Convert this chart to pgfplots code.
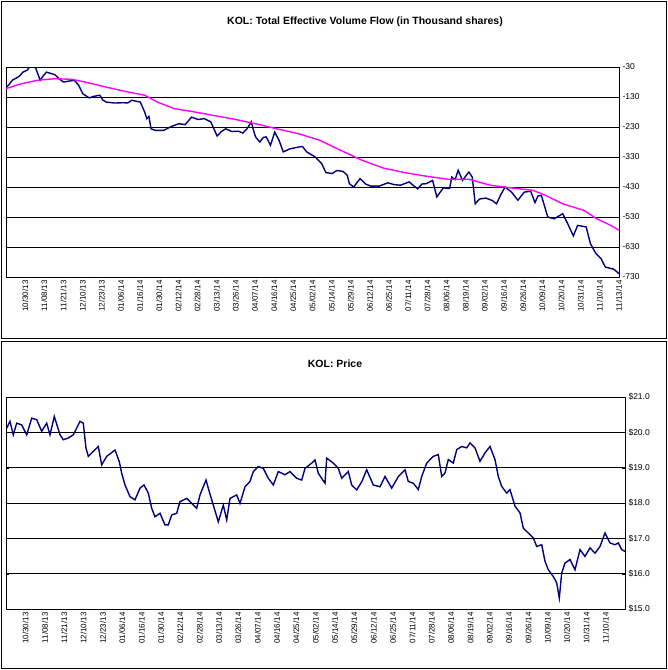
\documentclass[border=0pt]{standalone}
\usepackage{pgfplots}
\pgfplotsset{compat=1.18}
\usepackage{fontspec}
\setmainfont{Liberation Sans}
\definecolor{navy}{RGB}{0,0,128}
\definecolor{mag}{RGB}{255,0,255}
\pgfplotsset{
 common/.style={scale only axis, axis line style={black,line width=0.8pt},
  ymajorgrids, grid style={black,line width=0.8pt},
  yticklabel pos=right, tick style={black}, 
  tick label style={font=\fontsize{8.5}{9}\selectfont},
  x tick label style={rotate=90,anchor=east,font=\fontsize{8}{9}\selectfont},
  xticklabels={10/30/13,11/08/13,11/21/13,12/10/13,12/23/13,01/06/14,01/16/14,01/30/14,02/12/14,02/28/14,03/13/14,03/26/14,04/07/14,04/16/14,04/25/14,05/02/14,05/14/14,05/29/14,06/12/14,06/25/14,07/11/14,07/28/14,08/06/14,08/19/14,09/02/14,09/16/14,09/26/14,10/09/14,10/20/14,10/31/14,11/10/14,11/13/14},
  major tick length=3pt, xtick style={draw=none},
  /pgf/number format/assume math mode=true}
}
\begin{document}
\begin{tikzpicture}
\useasboundingbox (0pt,0pt) rectangle (668pt,-670pt);
\draw[line width=1pt] (1.5pt,-1.5pt) rectangle (666.5pt,-338pt);
\draw[line width=1pt] (1.5pt,-341pt) rectangle (666.5pt,-668.5pt);
\node[font=\bfseries\fontsize{10.5}{12}\selectfont] at (365pt,-22pt) {KOL: Total Effective Volume Flow (in Thousand shares)};
\node[font=\bfseries\fontsize{10.5}{12}\selectfont] at (335pt,-364pt) {KOL: Price};
\begin{axis}[common, at={(6pt,-277pt)}, anchor=south west, width=613pt, height=210pt,
  xmin=15, xmax=1452, ymin=-730, ymax=-30, ytick={-30,-130,...,-730},
  xtick={60,104.9,...,1453}]
\addplot[navy, line width=1.4pt] coordinates {
(15,-99)(20,-92)(30,-74)(45,-62)(55,-47)(65,-40)(75,-19)(85,-35)(95,-74)(102,-60)(110,-47)(130,-56)(140,-70)(150,-80)(175,-74)(185,-90)(195,-119)(210,-133)(220,-128)(235,-124)(242,-140)(250,-147)(270,-150)(290,-149)(300,-150)(310,-141)(330,-147)(340,-180)(345,-202)(350,-195)(355,-236)(365,-241)(385,-241)(400,-230)(420,-219)(435,-222)(450,-197)(465,-205)(480,-202)(495,-213)(502,-235)(510,-260)(520,-245)(530,-236)(545,-245)(560,-244)(570,-250)(580,-236)(590,-213)(595,-240)(600,-263)(610,-280)(618,-265)(625,-263)(635,-291)(645,-247)(655,-274)(665,-313)(680,-303)(700,-297)(710,-295)(720,-313)(740,-330)(755,-352)(765,-382)(780,-385)(790,-375)(805,-378)(815,-391)(820,-419)(830,-430)(845,-402)(858,-420)(870,-427)(890,-427)(910,-416)(925,-422)(940,-424)(960,-413)(970,-425)(980,-436)(990,-420)(1000,-419)(1015,-408)(1025,-463)(1040,-433)(1055,-435)(1060,-397)(1068,-405)(1075,-374)(1085,-408)(1100,-380)(1108,-397)(1115,-486)(1125,-470)(1140,-467)(1155,-475)(1165,-486)(1175,-455)(1185,-430)(1200,-447)(1215,-474)(1230,-447)(1245,-444)(1255,-482)(1262,-460)(1270,-458)(1285,-530)(1300,-536)(1320,-519)(1330,-547)(1345,-593)(1355,-558)(1375,-563)(1385,-619)(1398,-652)(1410,-669)(1420,-697)(1440,-704)(1452,-719)};
\addplot[mag, line width=1.4pt] coordinates {
(15,-102)(50,-86)(90,-74)(130,-69)(170,-71)(200,-80)(250,-97)(300,-113)(340,-124)(370,-147)(410,-169)(450,-178)(500,-191)(550,-204)(600,-219)(650,-236)(700,-252)(750,-274)(800,-308)(850,-341)(900,-367)(950,-382)(1000,-394)(1050,-404)(1100,-404)(1150,-424)(1200,-433)(1250,-441)(1280,-458)(1320,-486)(1370,-508)(1400,-536)(1430,-556)(1452,-574)};
\end{axis}
\begin{axis}[common, at={(6pt,-609pt)}, anchor=south west, width=619pt, height=212pt,
  xmin=6, xmax=625, ymin=15, ymax=21, ytick={15,16,...,21},
  yticklabel={\$\pgfmathprintnumber[fixed,fixed zerofill,precision=1]{\tick}},
  xtick={25.6,44.94,...,626}]
\addplot[navy, line width=1.4pt] coordinates {
(6.7,20.12)(10,20.31)(13.3,19.93)(16.7,20.26)(21.7,20.21)(26.7,19.93)(31.7,20.40)(36.7,20.36)(41.7,20.03)(46.7,20.26)(50,19.93)(54.3,20.45)(60,19.93)(63.3,19.79)(68.3,19.84)(73.3,19.93)(80,20.31)(83.3,20.26)(86,19.55)(88.3,19.32)(93.3,19.46)(98.3,19.60)(101.7,19.08)(106.7,19.32)(115,19.50)(119.3,19.17)(121.7,18.84)(125,18.51)(130,18.18)(135,18.09)(140,18.42)(144,18.51)(148.3,18.28)(151.7,17.85)(155,17.61)(160,17.71)(165,17.38)(168.3,17.38)(171.7,17.66)(176.7,17.71)(180,18.04)(186.7,18.13)(191.7,17.99)(196.7,17.85)(200,18.23)(206,18.65)(209.3,18.32)(213.3,17.94)(218.3,17.47)(223.3,17.94)(226.7,17.52)(230,18.13)(236.7,18.23)(240,17.99)(245,18.46)(250,18.61)(253.3,18.89)(258.3,19.03)(263.3,18.98)(268.3,18.70)(273.3,18.51)(278.3,18.89)(285,18.80)(290,18.89)(296.7,18.70)(301.7,18.65)(305,18.98)(311.7,19.13)(315,19.22)(318.3,18.84)(325,18.56)(326.7,19.27)(333.3,19.13)(338.3,18.98)(341.7,18.70)(348.3,18.89)(351.7,18.51)(356.7,18.37)(361.7,18.60)(366.7,18.94)(373.3,18.51)(380,18.46)(385,18.75)(391.7,18.42)(398.3,18.75)(405,18.94)(408.3,18.61)(413.3,18.56)(418.3,18.38)(421.7,18.75)(426.7,19.13)(433.3,19.32)(438.3,19.37)(441.7,18.75)(445,18.85)(448.3,19.23)(453.3,19.13)(456.7,19.51)(461.7,19.60)(466.7,19.56)(470,19.70)(475,19.56)(480,19.18)(485,19.42)(490,19.60)(495,19.23)(498.3,18.75)(501.7,18.47)(506.7,18.28)(510,18.38)(515,17.91)(520,17.72)(523.3,17.29)(528.3,17.15)(533.3,17.01)(536.7,16.77)(541.7,16.82)(545,16.35)(548.3,16.11)(553.3,15.92)(556.7,15.74)(559.3,15.31)(561.7,16.02)(565,16.30)(570,16.40)(575,16.11)(580,16.68)(585,16.49)(590,16.73)(595,16.58)(600,16.77)(605,17.15)(610,16.87)(615,16.82)(618.3,16.87)(621.7,16.68)(625,16.63)};
\end{axis}
\end{tikzpicture}
\end{document}
